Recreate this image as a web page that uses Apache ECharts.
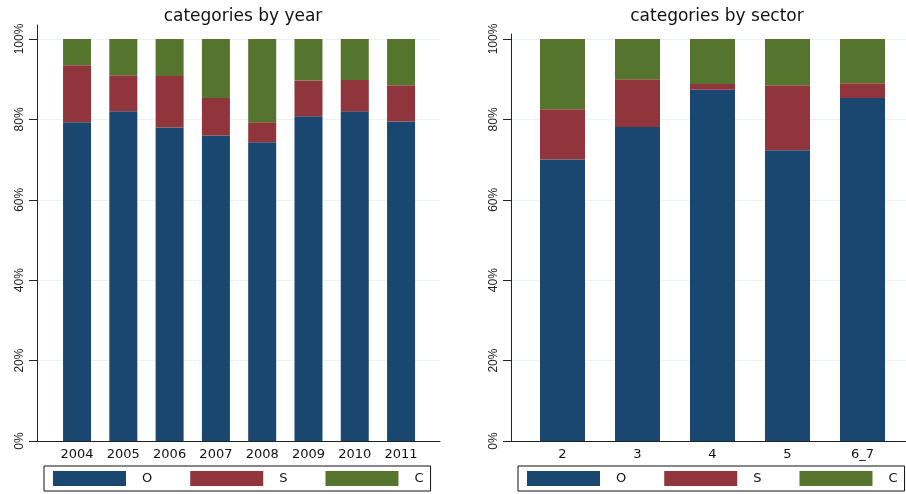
<!DOCTYPE html>
<html>
<head>
<meta charset="utf-8">
<script src="https://cdn.jsdelivr.net/npm/echarts@6/dist/echarts.min.js"></script>
<style>
  html, body { margin: 0; padding: 0; background: #fff; }
  #chart { width: 906px; height: 494px; }
</style>
</head>
<body>
<div id="chart"></div>
<script>
  // categories
  var years = ['2004', '2005', '2006', '2007', '2008', '2009', '2010', '2011']
  var sectors = ['2', '3', '4', '5', '6_7']

  // shares in percent
  var yearO = [79.3, 82.0, 78.0, 76.0, 74.3, 80.8, 82.0, 79.5]
  var yearS = [14.2, 9.0, 12.8, 9.3, 5.0, 8.9, 7.8, 9.0]
  var yearC = [6.5, 9.0, 9.2, 14.7, 20.7, 10.3, 10.2, 11.5]

  var sectorO = [70.0, 78.1, 87.4, 72.3, 85.3]
  var sectorS = [12.5, 11.9, 1.4, 16.2, 3.7]
  var sectorC = [17.5, 10.0, 11.2, 11.5, 11.0]

  var colors = { O: '#1a476f', S: '#90353b', C: '#55752f' }

  // frame grids (0, 1) carry the axis lines, ticks and gridlines;
  // bar grids (2, 3) sit inside them and carry the categories;
  // grids 4, 5 only extend the y axis line a little above 100%
  function frameY(idx) {
    return {
      type: 'value', gridIndex: idx, min: 0, max: 100, interval: 20,
      axisLine: { show: true, lineStyle: { color: '#222', width: 1 } },
      axisTick: { show: true, length: 8, lineStyle: { color: '#222' } },
      axisLabel: {
        rotate: 90, margin: 11, color: '#222',
        fontFamily: 'Liberation Sans', fontSize: 12,
        formatter: '{value}%'
      },
      splitLine: { show: true, lineStyle: { color: '#eaf2f3', width: 1 } }
    }
  }

  function frameX(idx) {
    return {
      type: 'value', gridIndex: idx, min: 0, max: 1,
      axisLine: { show: true, onZero: false, lineStyle: { color: '#222', width: 1 } },
      axisTick: { show: false },
      axisLabel: { show: false },
      splitLine: { show: false }
    }
  }

  function stubY(idx) {
    return {
      type: 'value', gridIndex: idx, min: 0, max: 1,
      axisLine: { show: true, lineStyle: { color: '#222', width: 1 } },
      axisTick: { show: false },
      axisLabel: { show: false },
      splitLine: { show: false }
    }
  }

  function hiddenX(idx) {
    return { type: 'value', gridIndex: idx, min: 0, max: 1, show: false }
  }

  function barY(idx) {
    return { type: 'value', gridIndex: idx, min: 0, max: 100, show: false }
  }

  function barX(idx, cats) {
    return {
      type: 'category', gridIndex: idx, data: cats,
      axisLine: { show: false },
      axisTick: { show: false },
      axisLabel: { color: '#111', fontFamily: 'DejaVu Sans', fontSize: 13, margin: 7 }
    }
  }

  function bars(name, vals, idx, stack, width) {
    return {
      name: name, type: 'bar', stack: stack,
      xAxisIndex: idx, yAxisIndex: idx,
      barWidth: width,
      itemStyle: { color: colors[name] },
      data: vals
    }
  }

  function legend(left) {
    return {
      data: ['O', 'S', 'C'],
      left: left, top: 466,
      orient: 'horizontal',
      itemWidth: 73, itemHeight: 15, itemGap: 38,
      icon: 'rect',
      padding: [5, 7, 5, 9],
      borderColor: '#111', borderWidth: 1,
      selectedMode: false,
      textStyle: {
        color: '#111', fontFamily: 'DejaVu Sans', fontSize: 13,
        padding: [0, 0, 0, 11]
      }
    }
  }

  var chart = echarts.init(document.getElementById('chart'))

  var titleStyle = { fontFamily: 'DejaVu Sans', fontSize: 17, fontWeight: 'normal', color: '#111' }

  var option = {
    animation: false,
    backgroundColor: '#fff',
    title: [
      { text: 'categories by year', left: 238, top: 3, textAlign: 'center', textStyle: titleStyle },
      { text: 'categories by sector', left: 712, top: 3, textAlign: 'center', textStyle: titleStyle }
    ],
    legend: [legend(44), legend(518)],
    grid: [
      { left: 37, top: 39, width: 403, height: 402 },
      { left: 511, top: 39, width: 395, height: 402 },
      { left: 53.9, top: 39, width: 370.3, height: 402 },
      { left: 525, top: 39, width: 375, height: 402 },
      { left: 37, top: 25, width: 403, height: 14 },
      { left: 511, top: 34, width: 395, height: 5 }
    ],
    xAxis: [frameX(0), frameX(1), barX(2, years), barX(3, sectors), hiddenX(4), hiddenX(5)],
    yAxis: [frameY(0), frameY(1), barY(2), barY(3), stubY(4), stubY(5)],
    series: [
      bars('O', yearO, 2, 'year', 28),
      bars('S', yearS, 2, 'year', 28),
      bars('C', yearC, 2, 'year', 28),
      bars('O', sectorO, 3, 'sector', 45),
      bars('S', sectorS, 3, 'sector', 45),
      bars('C', sectorC, 3, 'sector', 45)
    ]
  }

  chart.setOption(option)
</script>
</body>
</html>
